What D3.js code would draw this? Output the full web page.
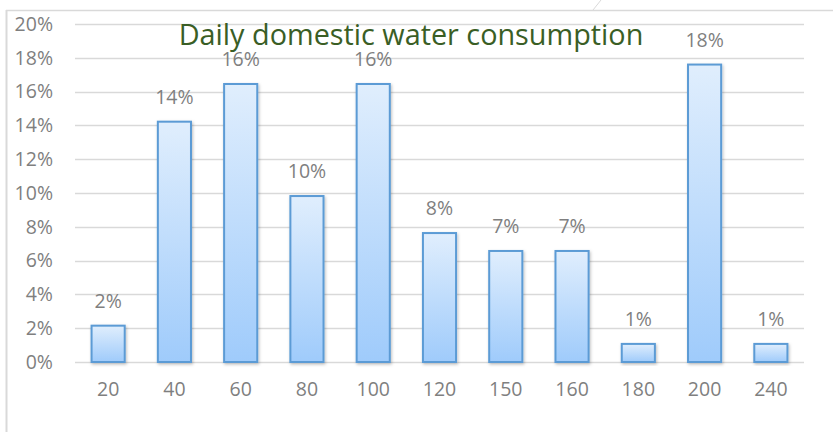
<!DOCTYPE html>
<html>
<head>
<meta charset="utf-8">
<script src="https://cdn.jsdelivr.net/npm/d3@7"></script>
<style>
  body { margin: 0; background: #fff; }
  svg { display: block; font-family: "Open Sans", sans-serif; }
</style>
</head>
<body>
<script>
// litres per person per day, share of households
var categories = ['20', '40', '60', '80', '100', '120', '150', '160', '180', '200', '240'];
var shares = [0.0215, 0.1422, 0.1645, 0.0982, 0.1645, 0.0763, 0.0657, 0.0657, 0.0107, 0.1760, 0.0107];
var yTicks = [0, 0.02, 0.04, 0.06, 0.08, 0.10, 0.12, 0.14, 0.16, 0.18, 0.20];
var title = 'Daily domestic water consumption';

var width = 833, height = 432;

var svg = d3.select('body').append('svg')
      .attr('width', width)
      .attr('height', height);

var defs = svg.append('defs');
var grad = defs.append('linearGradient')
      .attr('id', 'barFill')
      .attr('x1', 0).attr('y1', 0).attr('x2', 0).attr('y2', 1);
grad.append('stop').attr('offset', '0%').attr('stop-color', '#e0eefd');
grad.append('stop').attr('offset', '100%').attr('stop-color', '#9fcbfb');

var shadow = defs.append('filter').attr('id', 'shadow')
      .attr('x', '-30%').attr('y', '-10%').attr('width', '160%').attr('height', '130%');
shadow.append('feDropShadow')
      .attr('dx', 1).attr('dy', 1.5).attr('stdDeviation', 1.5)
      .attr('flood-color', '#000').attr('flood-opacity', 0.25);

// outer frame (cropped chart area)
svg.append('line')
      .attr('x1', 6.5).attr('y1', 10).attr('x2', 6.5).attr('y2', height)
      .attr('stroke', '#d9d9d9').attr('stroke-width', 2);
svg.append('line')
      .attr('x1', 6).attr('y1', 10.5).attr('x2', width).attr('y2', 10.5)
      .attr('stroke', '#d9d9d9').attr('stroke-width', 1.5);
svg.append('line')
      .attr('x1', 593).attr('y1', 10).attr('x2', 601).attr('y2', 0)
      .attr('stroke', '#d9d9d9').attr('stroke-width', 1);

var x = d3.scaleBand()
      .domain(categories)
      .range([75, 804])
      .paddingInner(0.5)
      .paddingOuter(0.25);

var y = d3.scaleLinear()
      .domain([0, 0.20])
      .range([362, 24]);

// gridlines
svg.append('g').selectAll('line')
      .data(yTicks)
      .enter().append('line')
      .attr('x1', 75)
      .attr('x2', 804)
      .attr('y1', function (d) { return Math.round(y(d)) + 0.5; })
      .attr('y2', function (d) { return Math.round(y(d)) + 0.5; })
      .attr('stroke', '#d9d9d9')
      .attr('stroke-width', 1.5);

var yAxis = d3.axisLeft(y)
      .tickValues(yTicks)
      .tickFormat(d3.format('.0%'))
      .tickSize(0)
      .tickPadding(0);

svg.append('g')
      .attr('transform', 'translate(53,0)')
      .call(yAxis)
      .call(function (g) { g.select('.domain').remove(); })
      .selectAll('text')
      .attr('font-family', '"Open Sans", sans-serif')
      .attr('font-size', 19.5)
      .attr('fill', '#7f7f7f');

var xAxis = d3.axisBottom(x).tickSize(0).tickPadding(0);

svg.append('g')
      .attr('transform', 'translate(0,382)')
      .call(xAxis)
      .call(function (g) { g.select('.domain').remove(); })
      .selectAll('text')
      .attr('font-family', '"Open Sans", sans-serif')
      .attr('font-size', 19.5)
      .attr('fill', '#7f7f7f');

// bars
svg.append('g').selectAll('rect')
      .data(shares)
      .enter().append('rect')
      .attr('x', function (d, i) { return x(categories[i]); })
      .attr('y', function (d) { return y(d); })
      .attr('width', x.bandwidth())
      .attr('height', function (d) { return y(0) - y(d); })
      .attr('fill', 'url(#barFill)')
      .attr('stroke', '#5b9bd5')
      .attr('stroke-width', 2)
      .attr('filter', 'url(#shadow)');

// data labels
svg.append('g').selectAll('text')
      .data(shares)
      .enter().append('text')
      .attr('x', function (d, i) { return x(categories[i]) + x.bandwidth() / 2; })
      .attr('y', function (d) { return y(d) - 18; })
      .attr('text-anchor', 'middle')
      .attr('font-size', 19.5)
      .attr('fill', '#7f7f7f')
      .text(function (d) { return d3.format('.0%')(d); });

svg.append('text')
      .attr('x', 411)
      .attr('y', 45)
      .attr('text-anchor', 'middle')
      .attr('font-size', 28.8)
      .attr('fill', '#3a5e25')
      .text(title);
</script>
</body>
</html>
